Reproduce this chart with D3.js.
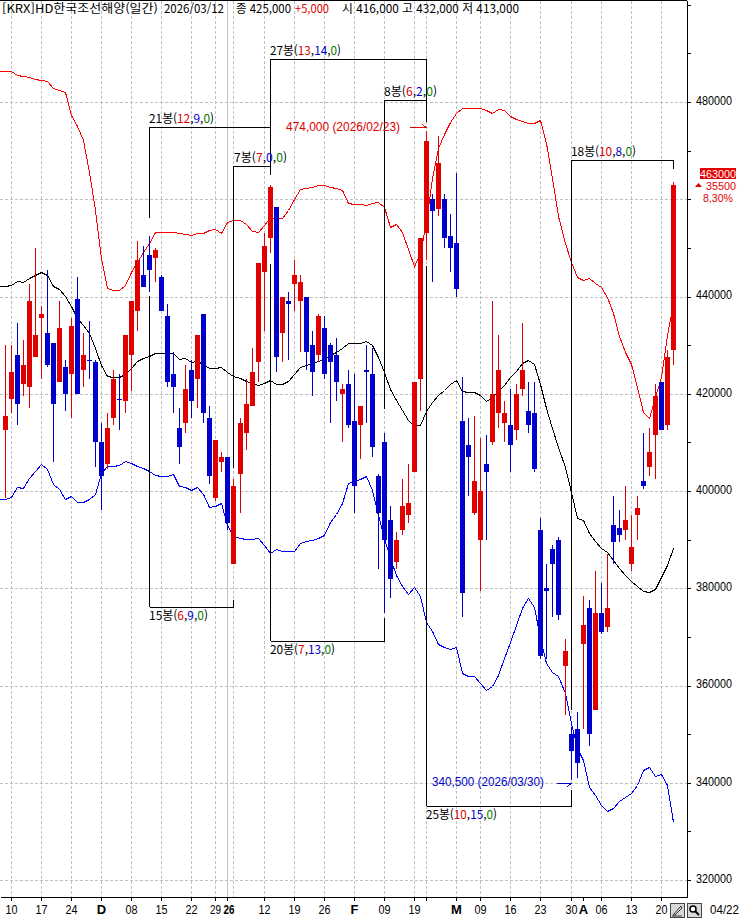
<!DOCTYPE html>
<html lang="ko">
<head>
<meta charset="utf-8">
<title>HD한국조선해양 일간</title>
<script src="https://cdn.jsdelivr.net/npm/d3@7/dist/d3.min.js"></script>
<style>
  html, body { margin: 0; padding: 0; background: #fff; }
  svg { display: block; }
  text { font-family: "Liberation Sans", "Noto Sans CJK KR", sans-serif; font-size: 12px; fill: #000; }
  .ko { font-family: "Noto Sans CJK KR", "Liberation Sans", sans-serif; }
</style>
</head>
<body>
<svg id="chart" width="748" height="919"></svg>
<script>
// Daily candles, oldest first
const opens = [412500,419000,428000,422000,421500,427500,435500,432500,430500,422500,425500,424000,439500,425000,427000,426500,410000,405500,415000,419000,418500,428000,437000,444500,448500,448000,444000,436000,424000,413000,414000,425000,423000,436500,415000,398500,406000,407000,385000,403500,412000,417500,426500,445000,452000,458500,432500,439000,442500,439000,440000,430000,428000,433500,430000,428000,420000,422000,414500,413500,425000,424000,403000,410000,394000,385500,392000,395000,404000,423000,453000,460000,458000,460000,452500,451000,414500,409500,395500,390000,405500,410000,416000,414000,413500,412500,421000,416500,416000,392000,380000,388000,390000,364000,350000,351000,368500,376000,355000,375000,372000,393000,392500,392000,385000,395000,402000,405000,411500,422500,413500,429000];
const highs = [430000,430000,434500,431000,442500,450000,438000,445500,430500,439000,427000,435500,444000,432500,435000,427000,414000,416000,425000,424000,432000,439000,451500,450500,452500,450000,444500,438500,428500,417000,426000,427000,432000,436500,417500,410500,408000,407000,402500,415000,423000,429500,447000,453000,463000,458500,440000,441000,447500,444500,440000,433000,436500,436000,430500,431500,422000,425000,424000,417500,430000,429500,403500,412000,397000,391500,402500,405500,422500,452000,474000,461000,473000,461000,457000,465500,423500,415000,415500,411000,411500,439000,432000,418500,421000,422000,434500,422500,422500,394500,385000,389000,390500,369500,351500,354500,378500,377500,383500,381000,387000,399000,396000,401000,395000,399000,412000,413000,422000,422500,429000,463500];
const lows = [398500,416000,413500,419500,417000,427500,423000,425500,406000,422500,416500,415000,420000,421500,423000,405000,396000,404500,413500,412500,416000,420500,433000,442000,441000,443000,437000,421500,416000,405500,412000,415000,417000,414000,401500,398000,404000,392000,385000,395500,408500,417500,422500,433000,449000,424500,426500,427000,437000,428500,425000,419500,426500,423000,414000,418500,410000,413000,395500,406500,414000,407000,384000,375000,378000,384000,391000,393500,404000,416500,447500,443000,456500,450000,445000,440000,374000,399000,395000,379500,390000,409500,413000,410000,404000,410500,419500,412000,404000,365500,365500,374000,373500,354000,340500,341000,351000,347500,355000,370500,371000,385000,389500,390000,383500,390000,400500,403000,402500,412500,412500,426000];
const closes = [415500,424500,418000,426000,439000,432000,436500,426000,418000,433500,420000,434000,420000,428000,427000,410000,403000,413000,423000,419000,432000,439000,447500,442000,445500,449500,437000,422500,421500,409000,421000,418500,432000,416000,403000,410500,407000,393500,401000,414000,418000,424500,447000,450500,462500,427500,440000,438500,444500,443000,428500,424500,436000,424000,426500,422500,421000,413500,401000,417500,424500,409000,395500,390000,382000,390000,397000,397500,422500,452000,472000,457500,467500,452000,450000,441500,379000,407000,402000,400000,404000,420000,425000,416000,409500,420000,425000,413500,404500,366000,379500,385000,374500,367000,346500,344000,372500,350000,375000,371000,376000,389500,391000,394000,388500,396500,401000,408000,419500,412500,427500,463000];

// 20-day bands; one extra leading value starts them at the left edge
const upperBand = [486400,486400,486300,485600,485400,485100,484700,484500,484400,482900,482500,482100,477300,475100,472200,465600,457800,447900,441800,441300,441300,442400,445000,447100,449200,451000,453300,453300,453300,453300,453100,452900,452700,453100,453100,453700,453900,453100,455300,455700,455700,454900,453500,453300,454700,456400,455900,456100,457800,460100,462100,462300,462500,462900,462900,462500,462300,461900,459200,459000,459000,458800,459200,459400,458400,454300,454900,453300,449800,446300,448900,455300,464400,470500,473400,475900,477700,478800,478800,478800,478800,478400,477700,478600,478400,477100,476500,476100,475700,475700,476300,471600,464400,456600,451000,447100,444000,443400,443800,442800,442000,439900,436600,431900,428600,426100,421400,416200,415000,419300,423400,432100,438700];
const midBand = [442200,442200,442400,443200,443000,443800,444400,445000,444400,442200,441500,440100,438000,435600,434100,432500,429400,425900,423700,423400,423400,424100,425300,426700,427400,427800,428400,428400,428400,428400,427100,427400,426500,426700,426100,425300,425300,425500,424500,423700,423200,422600,422200,421800,422200,422800,422000,422000,422600,424100,425500,425900,426300,426700,427100,428000,428600,429400,430400,430400,430400,430900,430000,427600,424500,421000,418700,416700,414600,413400,413600,416500,418300,419700,420800,422000,422800,420600,420400,420400,419700,418500,419300,420600,421800,423400,424700,426300,426900,426100,422000,417100,413000,409100,404900,399800,394400,394000,391400,389700,388300,387500,385800,384200,382700,381500,380500,379400,379200,379900,382300,384800,388300];
const lowerBand = [398400,398400,398800,400800,400600,402700,404100,405600,404500,401400,400400,398400,399000,397700,397700,398400,399400,403700,405100,405200,405300,406200,405800,405100,404700,404100,403300,403100,403100,403500,401000,400800,400200,400800,399400,396700,396900,397500,393000,390700,390300,390100,390100,390300,388900,387300,388100,387700,387700,387700,389300,389700,389900,390300,391000,393600,395300,397500,401600,402100,402500,403100,400200,395100,390300,386200,382700,380500,378800,380300,378400,373100,371200,368500,367900,367500,367900,362600,362000,362000,360500,359100,359900,362200,365700,368900,372400,375900,378000,376100,369800,364600,362800,362000,358500,352300,347100,344700,339100,337500,335400,334200,334800,336200,337100,337900,339500,342600,343200,341400,341800,339500,331900];

// Date axis: candle index of each labelled session
const tickIndex = [1,6,11,16,21,26,31,35,37,43,48,53,58,63,68,70,75,79,84,89,94,96,99,104,109];
const tickText = ["10","17","24","D","08","15","22","29","26","12","19","26","F","09","19","","M","09","16","23","30","A","06","13","20"];
const boldTickIndex = [16,37,58,75,96];
const gridIndex = [1,6,11,16,21,26,31,35,38,43,48,53,58,63,68,70,75,79,84,89,94,99,104,109];
const yearIndex = 37;

// Price axis; 460000 gives way to the last-price readout
const priceTicks = d3.range(330000, 500001, 10000).concat(320000);
const priceLabels = [320000,340000,360000,380000,400000,420000,440000,480000];
const priceGrid = [320000,340000,360000,380000,400000,420000,440000,460000,480000];

// Up/down counting brackets between swing points
const rangeSpans = [
  { from: 24, to: 44, level: 474900 },
  { from: 24, to: 38, level: 376100 },
  { from: 38, to: 44, level: 466800 },
  { from: 44, to: 70, level: 488800 },
  { from: 44, to: 63, level: 369200 },
  { from: 63, to: 70, level: 480400 },
  { from: 70, to: 94, level: 335200 },
  { from: 94, to: 111, level: 468100 }
];
const rangeLegs = [
  [24, 474900, 456100], [24, 376100, 440100],
  [38, 466800, 404700], [38, 376100, 377600],
  [44, 488800, 465000], [44, 369200, 446700],
  [63, 480400, 416900], [63, 369200, 373900],
  [70, 488800, 475900], [70, 335200, 446300],
  [94, 468100, 355000], [94, 335200, 338500],
  [111, 468100, 466200]
];
const rangeText = [
  { at: 24, bars: 21, up: 12, down: 9, flat: 0, level: 474900, side: "above", w: 65 },
  { at: 44, bars: 27, up: 13, down: 14, flat: 0, level: 488800, side: "above", w: 71 },
  { at: 38, bars: 7, up: 7, down: 0, flat: 0, level: 466800, side: "above", w: 53 },
  { at: 63, bars: 8, up: 6, down: 2, flat: 0, level: 480400, side: "above", w: 53 },
  { at: 94, bars: 18, up: 10, down: 8, flat: 0, level: 468100, side: "above", w: 65 },
  { at: 24, bars: 15, up: 6, down: 9, flat: 0, level: 376100, side: "below", w: 59 },
  { at: 44, bars: 20, up: 7, down: 13, flat: 0, level: 369200, side: "below", w: 65 },
  { at: 70, bars: 25, up: 10, down: 15, flat: 0, level: 335200, side: "below", w: 71 }
];

const RED = "#e00000", BLUE = "#0000cc";
const svg = d3.select("#chart");

// Pixel-snapped time scale: every session lands on a whole column
const x = d3.scaleLinear().domain([-0.88, 113.27]).range([0, 687])
  .interpolate((a, b) => t => Math.floor(a + (b - a) * t));
const y = d3.scaleLinear().domain([316400, 501000]).range([897.5, 0]);
const yr = v => Math.round(y(v));

// Squeeze text to the narrow width of the terminal's bitmap font
function fit(sel, width) {
  return sel.attr("textLength", width).attr("lengthAdjust", "spacingAndGlyphs");
}

// Grid
const grid = svg.append("g").attr("shape-rendering", "crispEdges")
  .attr("stroke", "#c0c0c0").attr("stroke-dasharray", "3,2");
grid.selectAll("line.h").data(priceGrid).join("line").attr("class", "h")
  .attr("x1", 0).attr("x2", 687).attr("y1", d => yr(d) + 0.5).attr("y2", d => yr(d) + 0.5);
grid.selectAll("line.v").data(gridIndex).join("line").attr("class", "v")
  .attr("y1", 1).attr("y2", 897).attr("x1", d => x(d) + 0.5).attr("x2", d => x(d) + 0.5);
svg.append("line").attr("shape-rendering", "crispEdges").attr("stroke", "#c0c0c0")
  .attr("y1", 1).attr("y2", 897).attr("x1", x(yearIndex) + 0.5).attr("x2", x(yearIndex) + 0.5);

// Bands
const bandLine = d3.line().x((d, i) => x(i - 1) + 0.5).y(d => yr(d) + 0.5);
[[upperBand, "#ff0000"], [midBand, "#000000"], [lowerBand, "#0000ff"]].forEach(([values, colour]) => {
  svg.append("path").datum(values).attr("d", bandLine).attr("fill", "none")
    .attr("stroke", colour).attr("stroke-width", 1).attr("shape-rendering", "crispEdges");
});

// Counting brackets
const brackets = svg.append("g").attr("shape-rendering", "crispEdges").attr("stroke", "#000");
brackets.selectAll("line.span").data(rangeSpans).join("line").attr("class", "span")
  .attr("x1", d => x(d.from) + 0.5).attr("x2", d => x(d.to) + 0.5)
  .attr("y1", d => yr(d.level) + 0.5).attr("y2", d => yr(d.level) + 0.5);
brackets.selectAll("line.leg").data(rangeLegs).join("line").attr("class", "leg")
  .attr("x1", d => x(d[0]) + 0.5).attr("x2", d => x(d[0]) + 0.5)
  .attr("y1", d => yr(d[1])).attr("y2", d => yr(d[2]));

// Candles
const candles = svg.append("g").attr("shape-rendering", "crispEdges");
const colourOf = i => closes[i] > opens[i] ? RED : BLUE;
candles.selectAll("rect.wick").data(d3.range(opens.length)).join("rect").attr("class", "wick")
  .attr("x", i => x(i)).attr("width", 1)
  .attr("y", i => yr(highs[i])).attr("height", i => Math.max(1, yr(lows[i]) - yr(highs[i])))
  .attr("fill", colourOf);
candles.selectAll("rect.body").data(d3.range(opens.length)).join("rect").attr("class", "body")
  .attr("x", i => x(i) - 2).attr("width", 5)
  .attr("y", i => yr(Math.max(opens[i], closes[i])))
  .attr("height", i => Math.max(1, yr(Math.min(opens[i], closes[i])) - yr(Math.max(opens[i], closes[i]))))
  .attr("fill", colourOf);

// Frame and axes
svg.append("line").attr("shape-rendering", "crispEdges").attr("stroke", "#000")
  .attr("x1", 0).attr("x2", 687).attr("y1", 0.5).attr("y2", 0.5);

const yAxis = d3.axisRight(y).tickValues(priceTicks).tickSize(4).tickSizeOuter(0).tickPadding(5)
  .tickFormat(d => priceLabels.includes(d) ? String(d) : "");
const yG = svg.append("g").attr("transform", "translate(687,0)").attr("shape-rendering", "crispEdges").call(yAxis);
yG.selectAll("text").attr("dy", "0.2em").each(function () { if (this.textContent) fit(d3.select(this), 36); });
yG.selectAll("path,line").attr("stroke", "#000");

const xAxis = d3.axisBottom(x).tickValues(tickIndex).tickSize(4).tickSizeOuter(0).tickPadding(4)
  .tickFormat((d, i) => tickText[i]);
const xG = svg.append("g").attr("transform", "translate(0,897)").attr("shape-rendering", "crispEdges").call(xAxis);
xG.selectAll("path,line").attr("stroke", "#000");
xG.selectAll("g.tick").each(function (d) {
  const s = d3.select(this).select("text");
  if (!s.text()) return;
  if (boldTickIndex.includes(d)) {
    s.style("font-weight", "bold").style("font-size", "13px");
    if (d === yearIndex) fit(s.style("font-size", "12px").attr("dx", 1.5), 11);
  } else fit(s, d === 35 ? 11 : 12);
});

// Header line
const header = [
  ["[KRX]HD한국조선해양(일간)", 2, 156, "#000"],
  ["2026/03/12", 164, 60, "#000"],
  ["종 425,000", 236, 55, "#000"],
  ["+5,000", 295, 34, "#e00000"],
  ["시 416,000 고 432,000 저 413,000", 342, 177, "#000"]
];
header.forEach(([txt, left, w, colour]) => {
  fit(svg.append("text").attr("class", "ko").attr("x", left).attr("y", 13)
    .style("fill", colour).text(txt), w);
});

// Counting bracket captions
rangeText.forEach(d => {
  const t = svg.append("text").attr("class", "ko").attr("x", x(d.at) + (d.bars === 7 ? 1 : 0))
    .attr("y", yr(d.level) + (d.side === "above" ? -4 : 13));
  [[d.bars + "봉(", "#000"], [d.up, "#e00000"], [",", "#000"], [d.down, "#0000cc"], [",", "#000"],
   [d.flat, "#008000"], [")", "#000"]].forEach(([s, c]) => {
    t.append("tspan").style("fill", c).text(s);
  });
  fit(t, d.w);
});

// Extreme price call-outs
const hiY = y(474000), loY = y(340500);
fit(svg.append("text").attr("x", 286).attr("y", hiY).style("fill", "#e00000").text("474,000 (2026/02/23)"), 114);
fit(svg.append("text").attr("x", 432).attr("y", loY + 6).style("fill", "#0000cc").text("340,500 (2026/03/30)"), 112);
svg.append("path").attr("fill", "none").attr("stroke", "#e00000").attr("shape-rendering", "crispEdges")
  .attr("d", d3.line()([[x(70) - 16, Math.round(hiY) - 3.5], [x(70) + 0.5, Math.round(hiY) - 3.5], [x(70) - 4, Math.round(hiY) - 6.5]]));
svg.append("path").attr("fill", "none").attr("stroke", "#0000cc").attr("shape-rendering", "crispEdges")
  .attr("d", d3.line()([[x(94) - 14, Math.round(loY) + 3.5], [x(94) + 0.5, Math.round(loY) + 3.5], [x(94) - 4, Math.round(loY) + 6.5]]));

// Last price box with change from the previous close
const lastClose = closes[closes.length - 1], prevClose = closes[closes.length - 2];
const change = lastClose - prevClose;
svg.append("rect").attr("x", 700).attr("y", 168).attr("width", 36).attr("height", 11).attr("fill", "#e00000");
fit(svg.append("text").style("font-size", "11px").attr("x", 700).attr("y", 177.5).style("fill", "#fff").text(lastClose), 36);
svg.append("path").attr("fill", "#e00000").attr("d", "M695,187 L702,187 L698.5,183 Z");
fit(svg.append("text").style("font-size", "11px").attr("x", 706).attr("y", 190).style("fill", "#e00000").text(change), 30);
fit(svg.append("text").style("font-size", "11px").attr("x", 703).attr("y", 202).style("fill", "#e00000")
  .text((change / prevClose * 100).toFixed(2).replace(".", ",") + "%"), 30);

// Toolbar buttons and last date
[670, 687].forEach(left => {
  svg.append("rect").attr("x", left + 0.5).attr("y", 903.5).attr("width", 14).attr("height", 14)
    .attr("fill", "#d8d8d8").attr("stroke", "#444").attr("shape-rendering", "crispEdges");
});
svg.append("path").attr("fill", "none").attr("stroke", "#333").attr("d", "M673,915 L681,906 L682,908 L675,915 Z M672,916 L682,916");
svg.append("circle").attr("cx", 693).attr("cy", 909).attr("r", 3).attr("fill", "#fff").attr("stroke", "#000").attr("stroke-width", 1.5);
svg.append("line").attr("x1", 695).attr("y1", 911).attr("x2", 699).attr("y2", 915).attr("stroke", "#000").attr("stroke-width", 2);
fit(svg.append("text").attr("x", 710).attr("y", 914).text("04/22"), 29);
</script>
</body>
</html>
